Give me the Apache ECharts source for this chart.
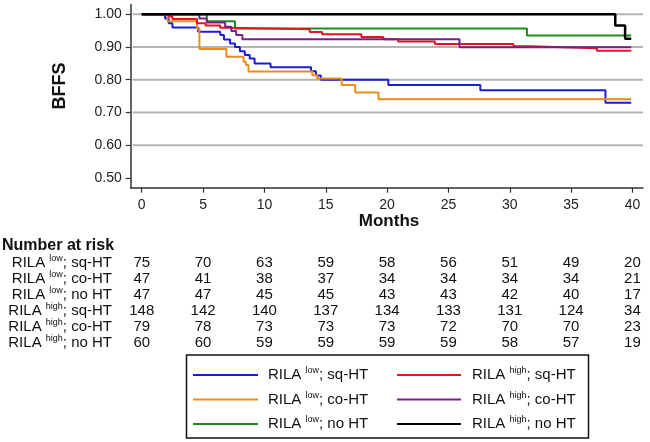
<!DOCTYPE html>
<html>
<head>
<meta charset="utf-8">
<script src="https://cdn.jsdelivr.net/npm/echarts@6/dist/echarts.min.js"></script>
<style>html,body{margin:0;padding:0;background:#fff}#main{width:650px;height:442px}</style>
</head>
<body>
<div id="main"></div>
<script>
// ---- data ----
const monthTicks = [0, 5, 10, 15, 20, 25, 30, 35, 40];
const yTicks = [0.5, 0.6, 0.7, 0.8, 0.9, 1.0];
const gridValues = [0.6, 0.7, 0.8, 0.9, 1.0];

const seriesNames = ['RILA low; sq-HT', 'RILA low; co-HT', 'RILA low; no HT', 'RILA high; sq-HT', 'RILA high; co-HT', 'RILA high; no HT'];
const groupLevels = ['low', 'low', 'low', 'high', 'high', 'high'];
const groupTherapies = ['sq-HT', 'co-HT', 'no HT', 'sq-HT', 'co-HT', 'no HT'];

const lowSqHT = [[0,1],[1.9,0.987],[2.2,0.973],[2.5,0.960],[4.6,0.947],[6.4,0.937],[6.7,0.923],[7.2,0.911],[7.6,0.900],[8.0,0.887],[8.4,0.876],[8.8,0.865],[9.2,0.850],[10.5,0.838],[13.8,0.826],[14.2,0.813],[14.6,0.800],[20.1,0.784],[27.6,0.768],[37.8,0.730],[39.9,0.730]];
const lowCoHT = [[0,1],[2.1,0.979],[4.5,0.957],[4.7,0.894],[6.9,0.870],[8.3,0.855],[8.5,0.845],[8.7,0.825],[13.9,0.814],[14.3,0.804],[16.3,0.784],[17.4,0.761],[19.3,0.740],[39.9,0.740]];
const lowNoHT = [[0,1],[5.3,0.979],[7.6,0.957],[31.4,0.935],[39.9,0.935]];
const highSqHT = [[0,1],[2.2,0.993],[2.5,0.986],[4.5,0.973],[5.2,0.966],[6.4,0.959],[6.9,0.954],[13.7,0.946],[14.7,0.939],[17.9,0.931],[19.7,0.924],[20.9,0.917],[23.9,0.909],[30.3,0.902],[31.7,0.896],[37.1,0.889],[39.9,0.889]];
const highCoHT = [[0,1],[4.7,0.987],[5.3,0.975],[6.8,0.962],[7.3,0.949],[7.7,0.937],[8.2,0.924],[25.9,0.899],[39.9,0.899]];
const highNoHT = [[0,1],[38.6,0.966],[39.4,0.925],[39.9,0.925]];

const riskLowSq = [75, 70, 63, 59, 58, 56, 51, 49, 20];
const riskLowCo = [47, 41, 38, 37, 34, 34, 34, 34, 21];
const riskLowNo = [47, 47, 45, 45, 43, 43, 42, 40, 17];
const riskHighSq = [148, 142, 140, 137, 134, 133, 131, 124, 34];
const riskHighCo = [79, 78, 73, 73, 73, 72, 70, 70, 23];
const riskHighNo = [60, 60, 59, 59, 59, 59, 58, 57, 19];

// ---- styles ----
const FONT = "'Liberation Sans', Arial, sans-serif";
const colors = ['#1c1cd8', '#e88c1c', '#1f8a1f', '#e61420', '#7a1e8a', '#000000'];
const curves = [lowSqHT, lowCoHT, lowNoHT, highSqHT, highCoHT, highNoHT];
const risks = [riskLowSq, riskLowCo, riskLowNo, riskHighSq, riskHighCo, riskHighNo];
const X_MIN = -0.9, X_MAX = 40.86, Y_MIN = 0.47, Y_MAX = 1.03;

const chart = echarts.init(document.getElementById('main'));

// horizontal reference lines drawn as plain line series on the axes
const series = gridValues.map(v => ({
  type: 'line',
  data: [[X_MIN + 0.15, v], [X_MAX, v]],
  showSymbol: false,
  symbol: 'none',
  silent: true,
  animation: false,
  z: 1,
  lineStyle: { color: '#b4b4b4', width: 2 }
}));
curves.forEach((d, i) => series.push({
  name: seriesNames[i],
  type: 'line',
  step: 'end',
  data: d,
  showSymbol: false,
  symbol: 'none',
  silent: true,
  animation: false,
  z: 3 + i,
  lineStyle: { color: colors[i], width: i === 5 ? 2.5 : 2 }
}));

const axisColor = '#333';
chart.setOption({
  animation: false,
  grid: { left: 130.7, right: 7, top: 4.5, bottom: 442 - 187.7, containLabel: false },
  xAxis: {
    type: 'value', min: X_MIN, max: X_MAX,
    splitLine: { show: false },
    axisLine: { show: true, onZero: false, lineStyle: { color: axisColor, width: 1.5 } },
    axisTick: { show: true, length: 5, customValues: monthTicks, lineStyle: { color: axisColor, width: 1.2 } },
    axisLabel: { customValues: monthTicks, margin: 10, fontFamily: FONT, fontSize: 14, color: '#222' }
  },
  yAxis: {
    type: 'value', min: Y_MIN, max: Y_MAX,
    splitLine: { show: false },
    axisLine: { show: true, onZero: false, lineStyle: { color: axisColor, width: 1.5 } },
    axisTick: { show: true, length: 5, customValues: yTicks, lineStyle: { color: axisColor, width: 1.2 } },
    axisLabel: { customValues: yTicks, margin: 9, fontFamily: FONT, fontSize: 14, color: '#222',
      formatter: v => v.toFixed(2) }
  },
  series: series
});

// ---- annotations: titles, risk table, legend ----
const xPix = m => chart.convertToPixel({ xAxisIndex: 0 }, m);

const g = [];
g.push({ type: 'text', x: 60, y: 86, rotation: Math.PI / 2,
  style: { text: 'BFFS', fontFamily: FONT, fontSize: 18, fontWeight: 'bold', fill: '#111',
    align: 'center', verticalAlign: 'middle', textAlign: 'center', textVerticalAlign: 'middle' } });
g.push({ type: 'text', x: 389, y: 221,
  style: { text: 'Months', fontFamily: FONT, fontSize: 17, fontWeight: 'bold', fill: '#111',
    align: 'center', verticalAlign: 'middle', textAlign: 'center', textVerticalAlign: 'middle' } });

g.push({ type: 'text', x: 2, y: 246,
  style: { text: 'Number at risk', fontFamily: FONT, fontSize: 16, fontWeight: 'bold', fill: '#111',
    align: 'left', verticalAlign: 'middle', textAlign: 'left', textVerticalAlign: 'middle' } });
const rowY0 = 263, rowStep = 16;
const richStyles = {
  n: { fontFamily: FONT, fontSize: 15, lineHeight: 17, fill: '#111', color: '#111' },
  s: { fontFamily: FONT, fontSize: 9, lineHeight: 17, verticalAlign: 'top', fill: '#111', color: '#111' }
};
risks.forEach((row, r) => {
  const y = rowY0 + r * rowStep;
  g.push({ type: 'text', x: 112, y: y,
    style: { text: '{n|RILA }{s|' + groupLevels[r] + '}{n|; ' + groupTherapies[r] + '}', rich: richStyles,
      align: 'right', verticalAlign: 'middle', textAlign: 'right', textVerticalAlign: 'middle' } });
  row.forEach((n, c) => {
    g.push({ type: 'text', x: xPix(monthTicks[c]), y: y,
      style: { text: String(n), fontFamily: FONT, fontSize: 15, fill: '#111',
        align: 'center', verticalAlign: 'middle', textAlign: 'center', textVerticalAlign: 'middle' } });
  });
});

g.push({ type: 'rect', shape: { x: 186.5, y: 355, width: 402, height: 83 },
  style: { fill: 'none', stroke: '#111', lineWidth: 1.5 } });
const legRowY = [375, 399.5, 424];
const legCols = [{ x1: 193, x2: 258, tx: 268 }, { x1: 397, x2: 461, tx: 472 }];
seriesNames.forEach((nm, i) => {
  const col = legCols[Math.floor(i / 3)];
  const y = legRowY[i % 3];
  g.push({ type: 'line', shape: { x1: col.x1, y1: y, x2: col.x2, y2: y },
    style: { stroke: colors[i], lineWidth: 2 } });
  g.push({ type: 'text', x: col.tx, y: y,
    style: { text: '{n|RILA }{s|' + groupLevels[i] + '}{n|; ' + groupTherapies[i] + '}', rich: richStyles,
      align: 'left', verticalAlign: 'middle', textAlign: 'left', textVerticalAlign: 'middle' } });
});

chart.setOption({ graphic: { elements: g } });
</script>
</body>
</html>
